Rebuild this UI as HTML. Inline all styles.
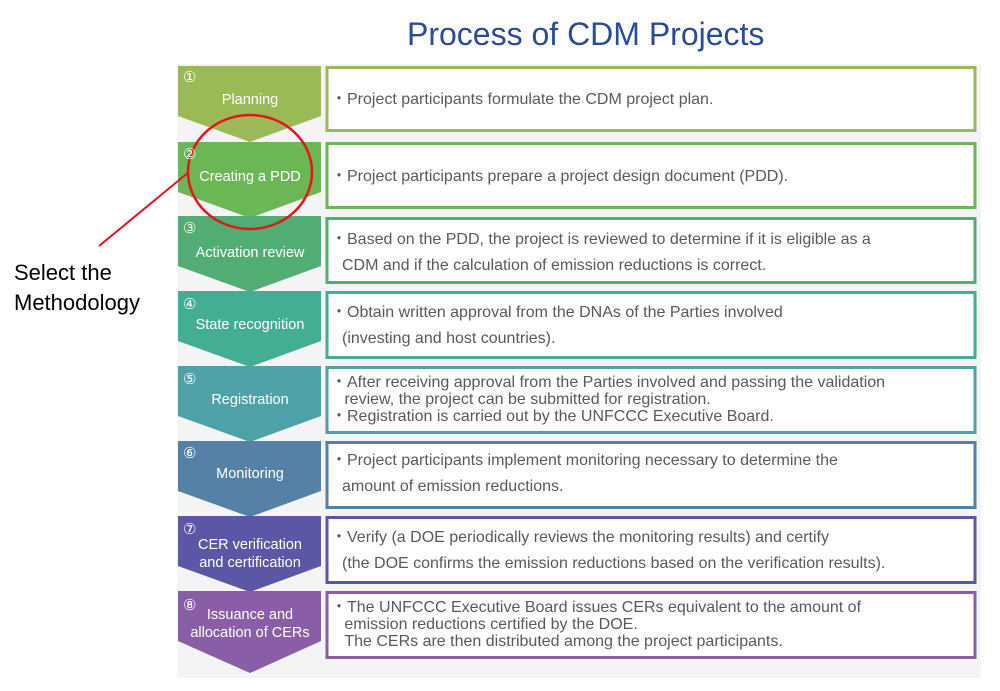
<!DOCTYPE html>
<html><head><meta charset="utf-8"><style>
body{margin:0;width:1000px;height:691px;background:#fff;position:relative;overflow:hidden;font-family:"Liberation Sans",sans-serif}
.t{position:absolute;white-space:nowrap;color:#5a5a5a;font-size:16px;line-height:18px}
.w{position:absolute;color:#fff;font-size:14.5px;text-align:center;width:146px;left:177px;line-height:18px}
.n{position:absolute;color:#fff;font-size:15px;left:183px}
</style></head><body>
<svg width="1000" height="691" style="position:absolute;left:0;top:0">
<rect x="177" y="64" width="804" height="614" fill="#f4f4f4"/>
<g>
<polygon points="178,66 321,66 321,116 250,142 178,116" fill="#9aba57"/>
<polygon points="178,142 321,142 321,192 250,218 178,192" fill="#6bb756"/>
<polygon points="178,216 321,216 321,266 250,292 178,266" fill="#52ad74"/>
<polygon points="178,291 321,291 321,341 250,367 178,341" fill="#43ae94"/>
<polygon points="178,366 321,366 321,416 250,442 178,416" fill="#4fa1a8"/>
<polygon points="178,441 321,441 321,491 250,517 178,491" fill="#5581a6"/>
<polygon points="178,516 321,516 321,566 250,592 178,566" fill="#5b57a6"/>
<polygon points="178,591 321,591 321,641 250,673 178,641" fill="#8a5ea6"/>
</g>
<g fill="#fff" stroke-width="3">
<rect x="327" y="67.5" width="648" height="63" stroke="#9aba57"/>
<rect x="327" y="143.5" width="648" height="64" stroke="#6bb756"/>
<rect x="327" y="218.5" width="648" height="64" stroke="#52ad74"/>
<rect x="327" y="292.5" width="648" height="65" stroke="#43ae94"/>
<rect x="327" y="367.5" width="648" height="65" stroke="#4fa1a8"/>
<rect x="327" y="442.5" width="648" height="65" stroke="#5581a6"/>
<rect x="327" y="517.5" width="648" height="65" stroke="#5b57a6"/>
<rect x="327" y="592.5" width="648" height="65" stroke="#8a5ea6"/>
</g>
<ellipse cx="250" cy="172" rx="62" ry="57" fill="none" stroke="#e8141a" stroke-width="2.5"/>
<line x1="189" y1="172" x2="99" y2="246" stroke="#e8141a" stroke-width="2"/>
</svg>
<div style="position:absolute;left:407px;top:16px;font-size:32px;color:#2b4c9b;white-space:nowrap">Process of CDM Projects</div>
<div style="position:absolute;left:14px;top:258px;font-size:22px;line-height:30px;color:#000">Select the<br>Methodology</div>

<div class="n" style="top:68px">①</div><div class="w" style="top:91px">Planning</div>
<div class="n" style="top:145px">②</div><div class="w" style="top:168px">Creating a PDD</div>
<div class="n" style="top:219px">③</div><div class="w" style="top:244px">Activation review</div>
<div class="n" style="top:295px">④</div><div class="w" style="top:316px">State recognition</div>
<div class="n" style="top:370px">⑤</div><div class="w" style="top:391px">Registration</div>
<div class="n" style="top:444px">⑥</div><div class="w" style="top:465px">Monitoring</div>
<div class="n" style="top:520px">⑦</div><div class="w" style="top:536px">CER verification<br>and certification</div>
<div class="n" style="top:596px">⑧</div><div class="w" style="top:606px">Issuance and<br>allocation of CERs</div>

<div class="t" style="left:331px;top:91px">・Project participants formulate the CDM project plan.</div>
<div class="t" style="left:331px;top:168px">・Project participants prepare a project design document (PDD).</div>
<div class="t" style="left:331px;top:231px">・Based on the PDD, the project is reviewed to determine if it is eligible as a</div>
<div class="t" style="left:342px;top:257px">CDM and if the calculation of emission reductions is correct.</div>
<div class="t" style="left:331px;top:304px">・Obtain written approval from the DNAs of the Parties involved</div>
<div class="t" style="left:342px;top:330px">(investing and host countries).</div>
<div class="t" style="left:331px;top:374px;line-height:17px">・After receiving approval from the Parties involved and passing the validation<br>&nbsp;&nbsp;&nbsp;review, the project can be submitted for registration.<br>・Registration is carried out by the UNFCCC Executive Board.</div>
<div class="t" style="left:331px;top:452px">・Project participants implement monitoring necessary to determine the</div>
<div class="t" style="left:342px;top:478px">amount of emission reductions.</div>
<div class="t" style="left:331px;top:529px">・Verify (a DOE periodically reviews the monitoring results) and certify</div>
<div class="t" style="left:342px;top:555px">(the DOE confirms the emission reductions based on the verification results).</div>
<div class="t" style="left:331px;top:599px;line-height:17px">・The UNFCCC Executive Board issues CERs equivalent to the amount of<br>&nbsp;&nbsp;&nbsp;emission reductions certified by the DOE.<br>&nbsp;&nbsp;&nbsp;The CERs are then distributed among the project participants.</div>
</body></html>
